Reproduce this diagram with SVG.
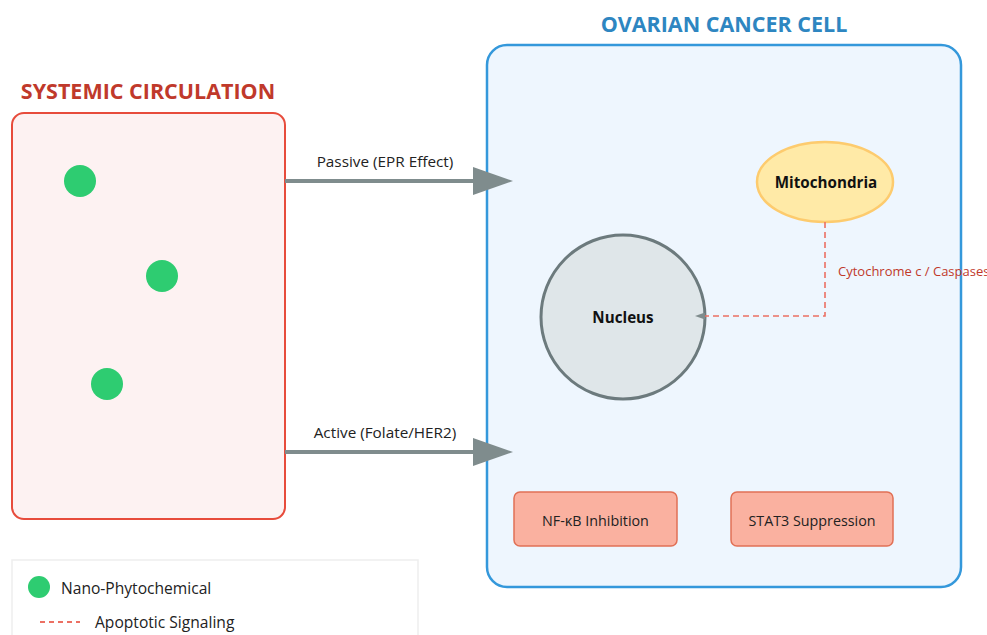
<svg xmlns="http://www.w3.org/2000/svg" width="987" height="635" viewBox="0 0 987 635">
<style>
text{font-family:"Open Sans","Noto Sans","Liberation Sans",sans-serif;}
.title{font-size:21.5px;font-weight:700;text-anchor:middle;}
.lbl{font-size:15.3px;fill:#222;text-anchor:middle;}
.bold{font-size:15.2px;font-weight:700;fill:#111;text-anchor:middle;}
.dot{fill:#2ecc71;}
.flow{stroke:#7f8c8d;stroke-width:4;fill:none;}
.sig{stroke:#ec7063;stroke-width:1.6;stroke-dasharray:6,4;fill:none;}
.path{fill:#fab1a0;stroke:#e17055;stroke-width:1.5;}
.box{font-size:14.3px;fill:#222;text-anchor:middle;}
.leg{font-size:15.6px;fill:#222;}
</style>
<defs>
<marker id="big" markerWidth="10" markerHeight="7" refX="0" refY="3.5" orient="auto" markerUnits="strokeWidth">
<polygon points="0 0, 10 3.5, 0 7" fill="#7f8c8d"/>
</marker>
<marker id="small" markerWidth="10" markerHeight="7" refX="0" refY="3.5" orient="auto" markerUnits="userSpaceOnUse">
<polygon points="0 0, 10 3.5, 0 7" fill="#7f8c8d"/>
</marker>
</defs>
<rect width="987" height="635" fill="#ffffff"/>

<g id="systemic">
<text class="title" x="148" y="99" fill="#c0392b">SYSTEMIC CIRCULATION</text>
<rect x="12" y="113" width="273" height="406" rx="12" fill="#fdf2f2" stroke="#e74c3c" stroke-width="2"/>
</g>
<g id="particle1"><circle class="dot" cx="80" cy="181" r="16"/></g>
<g id="particle2"><circle class="dot" cx="162" cy="276" r="16"/></g>
<g id="particle3"><circle class="dot" cx="107" cy="384" r="16"/></g>

<g id="cell">
<text class="title" x="724" y="32" fill="#2e86c1">OVARIAN CANCER CELL</text>
<rect x="487" y="45" width="474" height="542" rx="20" fill="#eef6fe" stroke="#3498db" stroke-width="2.5"/>
</g>

<g id="nucleus">
<circle cx="623" cy="317" r="82" fill="#dfe6e9" stroke="#6c7a7d" stroke-width="3"/>
<text class="bold" x="623" y="323">Nucleus</text>
</g>

<g id="mitochondria">
<ellipse cx="825" cy="182" rx="68" ry="40" fill="#ffeaa7" stroke="#fdcb6e" stroke-width="2.5"/>
<text class="bold" x="826" y="188">Mitochondria</text>
</g>

<g id="nfkb">
<rect class="path" x="514" y="492" width="163" height="54" rx="6"/>
<text class="box" x="595.5" y="526">NF-κB Inhibition</text>
</g>
<g id="stat3">
<rect class="path" x="731" y="492" width="162" height="54" rx="6"/>
<text class="box" x="812" y="526">STAT3 Suppression</text>
</g>

<g id="connectors">
<line class="flow" x1="285" y1="181" x2="473" y2="181" marker-end="url(#big)"/>
<text class="lbl" x="385" y="167">Passive (EPR Effect)</text>
<line class="flow" x1="285" y1="452" x2="473" y2="452" marker-end="url(#big)"/>
<text class="lbl" x="385" y="438">Active (Folate/HER2)</text>
<polyline class="sig" points="825,222 825,316 705,316" marker-end="url(#small)"/>
<text x="838" y="276" style="font-size:13px;fill:#c0392b">Cytochrome c / Caspases</text>
</g>

<g id="legend">
<rect x="12" y="560" width="406" height="90" fill="#ffffff" stroke="#eeeeee" stroke-width="1.5"/>
<circle class="dot" cx="39" cy="587" r="11"/>
<text class="leg" x="61" y="594">Nano-Phytochemical</text>
<line class="sig" x1="40" y1="622" x2="80" y2="622" style="stroke-dasharray:5,4;stroke-width:2"/>
<text class="leg" x="95" y="628">Apoptotic Signaling</text>
</g>
</svg>
